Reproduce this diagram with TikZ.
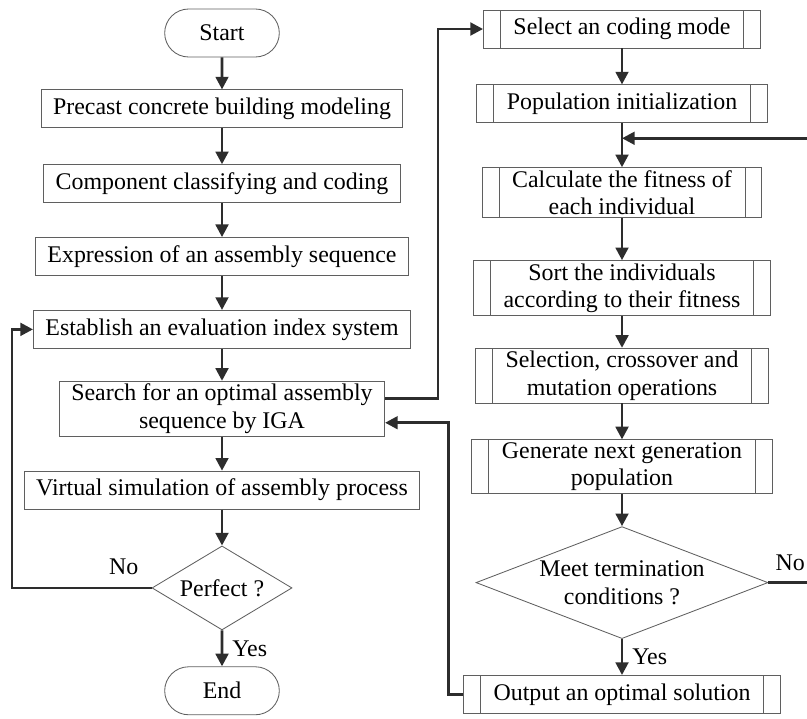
\documentclass[tikz,border=0pt]{standalone}
\usepackage{fontspec}
\setmainfont{Liberation Serif}
\usetikzlibrary{arrows.meta, positioning, shapes.geometric, shapes.misc}
\definecolor{edge}{RGB}{95,95,95}
\definecolor{ink}{RGB}{45,45,45}

\begin{document}
\begin{tikzpicture}[node distance=8.5mm, every node/.style={font=\fontsize{17}{19.5}\selectfont},
          b/.style={draw=edge, fill=white, line width=0.6pt, align=center,
                    inner xsep=3mm, inner ysep=2pt, minimum height=9.5mm},
          pp/.style={b, inner xsep=7.5mm, path picture={
              \draw[edge, line width=0.5pt] ([xshift=4.2mm]path picture bounding box.north west)
                    -- ([xshift=4.2mm]path picture bounding box.south west);
              \draw[edge, line width=0.5pt] ([xshift=-4.2mm]path picture bounding box.north east)
                    -- ([xshift=-4.2mm]path picture bounding box.south east);}},
          term/.style={draw=edge, line width=0.6pt, rounded rectangle,
                    minimum width=31mm, minimum height=12mm},
          dec/.style={draw=edge, line width=0.6pt, diamond, align=center, inner sep=0pt},
          ar/.style={-{Triangle[length=9pt, width=9pt]}, draw=ink, line width=2pt}]
        \useasboundingbox (0,0) rectangle (20.175,-17.95);
        % left column
        \node[term] (start) at (5.55,-0.825) {Start};
        \node[b, below=8mm of start] (model) {Precast concrete building modeling};
        \node[b, below=9mm of model] (code) {Component classifying and coding};
        \node[b, below=of code] (expr) {Expression of an assembly sequence};
        \node[b, below=of expr] (index) {Establish an evaluation index system};
        \node[b, below=8mm of index] (search) {Search for an optimal assembly\\ sequence by IGA};
        \node[b, below=8.5mm of search] (sim) {Virtual simulation of assembly process};
        \node[dec, below=9mm of sim, minimum width=35mm, minimum height=21mm, aspect=1.7] (perfect) {Perfect ?};
        \node[term, below=9mm of perfect] (end) {End};
        % right column
        \node[pp] (mode) at (15.55,-0.725) {Select an coding mode};
        \node[pp, below=9mm of mode] (init) {Population initialization};
        \node[pp, below=11mm of init] (fit) {Calculate the fitness of\\ each individual};
        \node[pp, below=10.5mm of fit] (sort) {Sort the individuals\\ according to their fitness};
        \node[pp, below=8mm of sort] (oper) {Selection, crossover and\\ mutation operations};
        \node[pp, below=9mm of oper] (gen) {Generate next generation\\ population};
        \node[dec, below=8mm of gen, minimum width=73mm, minimum height=28mm, aspect=2.6] (meet) {Meet termination\\ conditions ?};
        \node[pp, below=9mm of meet] (out) {Output an optimal solution};
        \coordinate[below=3.75mm of init.south] (merge);

        \draw[ar] (start) -- (model); \draw[ar] (model) -- (code);
        \draw[ar] (code) -- (expr); \draw[ar] (expr) -- (index);
        \draw[ar] (index) -- (search); \draw[ar] (search) -- (sim);
        \draw[ar] (sim) -- (perfect);
        \draw[ar] (perfect) -- node[right=3pt] {Yes} (end);
        \draw[ar] (perfect.west) -| node[pos=0.1, above=5pt] {No} ([xshift=-5.25mm]index.west) -- (index.west);
        \draw[ar] ([yshift=2.5mm]search.east) -- ++(1.325,0) |- (mode.west);
        \draw[ar] (out.west) -- ++(-0.375,0) |- ([yshift=-3.5mm]search.east);

        \draw[ar] (mode) -- (init); \draw[ar] (init) -- (fit);
        \draw[ar] (fit) -- (sort); \draw[ar] (sort) -- (oper);
        \draw[ar] (oper) -- (gen); \draw[ar] (gen) -- (meet);
        \draw[ar] (meet) -- node[right=3pt] {Yes} (out);
        \draw[ar] (meet.east) -- node[pos=0.42, above=4pt] {No} ++(1.3,0) |- (merge);
      \end{tikzpicture}
\end{document}
